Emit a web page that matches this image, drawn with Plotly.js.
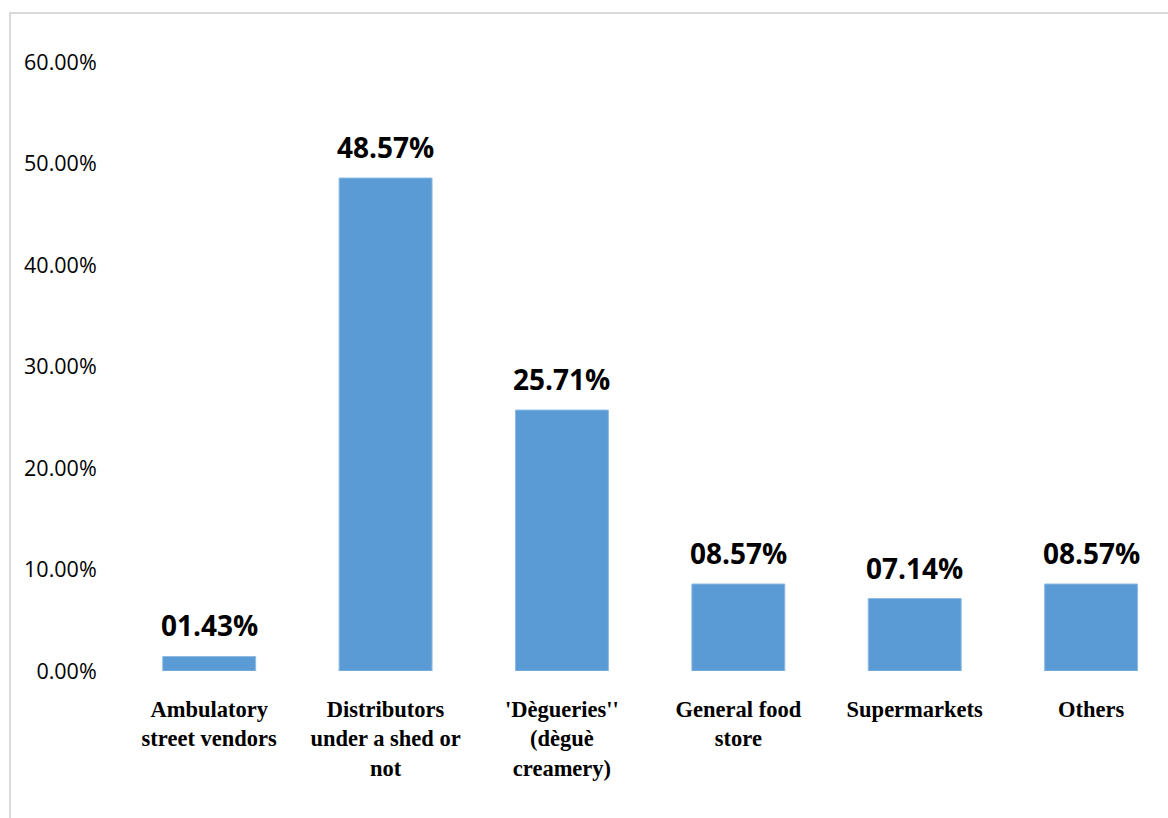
<!DOCTYPE html>
<html>
<head>
<meta charset="utf-8">
<script src="https://cdn.plot.ly/plotly-3.0.1.min.js"></script>
<style>
  html, body { margin: 0; padding: 0; background: #ffffff; overflow: hidden; }
  #frame { position: absolute; left: 9px; top: 12px; width: 1200px; height: 900px;
           border-left: 2px solid #d9d9d9; border-top: 2px solid #d9d9d9; pointer-events: none; }
  #chart { width: 1168px; height: 818px; }
</style>
</head>
<body>
<div id="chart"></div>
<div id="frame"></div>
<script>
// Data
const categories = ["Ambulatory street vendors", "Distributors under a shed or not", "'Dègueries'' (dèguè creamery)", "General food store", "Supermarkets", "Others"];
const tickLabels = ["Ambulatory<br>street vendors", "Distributors<br>under a shed or<br>not", "'Dègueries''<br>(dèguè<br>creamery)", "General food<br>store", "Supermarkets", "Others"];
const values = [1.43, 48.57, 25.71, 8.57, 7.14, 8.57];
const yTicks = [0, 10, 20, 30, 40, 50, 60];

function fmt(v) { return v.toFixed(2).padStart(5, '0') + '%'; }

const trace = {
  type: 'bar',
  x: categories,
  y: values,
  marker: { color: '#5b9bd5', line: { color: '#8fbbe3', width: 1 } },
  hoverinfo: 'skip'
};

const annotations = categories.map((c, i) => ({
  x: c, y: values[i], xref: 'x', yref: 'y',
  text: fmt(values[i]), showarrow: false,
  yanchor: 'bottom', yshift: 10,
  font: { family: 'Open Sans, sans-serif', size: 28, color: '#000000', weight: 'bold' }
}));

const layout = {
  width: 1168, height: 818,
  margin: { l: 121, r: 0, t: 62, b: 147, pad: 0 },
  paper_bgcolor: '#ffffff', plot_bgcolor: '#ffffff',
  showlegend: false,
  bargap: 0.473,
  xaxis: {
    type: 'category',
    tickmode: 'array', tickvals: categories, ticktext: tickLabels,
    range: [-0.5, 5.436],
    showgrid: false, zeroline: false, showline: false,
    ticks: 'outside', ticklen: 18, tickcolor: 'rgba(0,0,0,0)',
    tickangle: 0,
    tickfont: { family: 'Liberation Serif, Times New Roman, serif', size: 22.5, color: '#000000', weight: 'bold' }
  },
  yaxis: {
    range: [0, 60],
    tickmode: 'array', tickvals: yTicks,
    ticktext: yTicks.map(t => t.toFixed(2) + '%'),
    showgrid: false, zeroline: false, showline: false,
    ticks: 'outside', ticklen: 19, tickcolor: 'rgba(0,0,0,0)',
    tickfont: { family: 'Open Sans, sans-serif', size: 21.5, color: '#000000' }
  },
  annotations: annotations
};

Plotly.newPlot('chart', [trace], layout, { displayModeBar: false, staticPlot: true });
</script>
</body>
</html>
